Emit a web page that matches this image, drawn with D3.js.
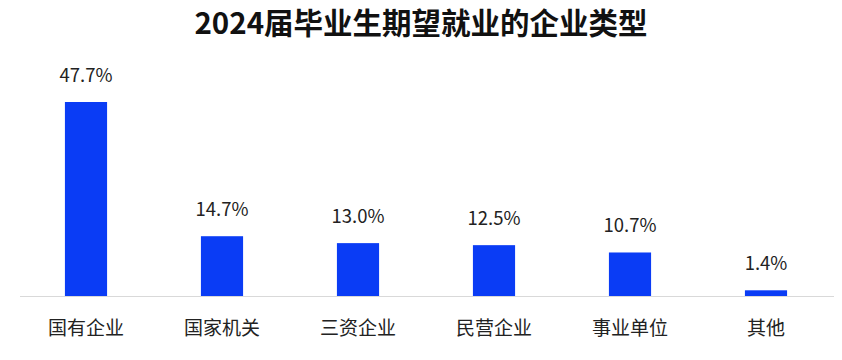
<!DOCTYPE html>
<html>
<head>
<meta charset="utf-8">
<script src="https://cdn.jsdelivr.net/npm/d3@7"></script>
<style>
  body { margin: 0; background: #fff; }
  text { font-family: "Noto Sans CJK SC", "Noto Sans", sans-serif; }
</style>
</head>
<body>
<div id="vis"></div>
<script>
// data
const categories = ['国有企业', '国家机关', '三资企业', '民营企业', '事业单位', '其他']
const values = [47.7, 14.7, 13.0, 12.5, 10.7, 1.4]
const title = '2024届毕业生期望就业的企业类型'

const width = 842
const height = 360
const margin = { left: 18, right: 8, top: 60, bottom: 64 }

const svg = d3.select('#vis')
  .append('svg')
  .attr('width', width)
  .attr('height', height)

// x scale (category bands)
const xScale = d3.scaleBand()
  .domain(categories)
  .range([margin.left, width - margin.right])
  .paddingInner(0.69)
  .paddingOuter(0.345)

// y scale (percent)
const baseY = height - margin.bottom
const yScale = d3.scaleLinear()
  .domain([0, 47.7])
  .range([baseY, 102])

// title
svg.append('text')
  .attr('x', width / 2)
  .attr('y', 34)
  .attr('text-anchor', 'middle')
  .attr('font-size', 29.5)
  .attr('font-weight', 'bold')
  .attr('fill', '#111')
  .text(title)

// baseline
svg.append('line')
  .attr('x1', 20)
  .attr('x2', 834)
  .attr('y1', baseY + 0.5)
  .attr('y2', baseY + 0.5)
  .attr('stroke', '#d9d9d9')
  .attr('stroke-width', 1)

const data = categories.map((c, i) => ({ cat: c, value: values[i] }))

// bars
svg.append('g')
  .selectAll('rect')
  .data(data)
  .enter()
  .append('rect')
  .attr('x', d => xScale(d.cat))
  .attr('y', d => yScale(d.value))
  .attr('width', xScale.bandwidth())
  .attr('height', d => baseY - yScale(d.value))
  .attr('fill', '#0a3cf5')

// value labels
svg.append('g')
  .selectAll('text')
  .data(data)
  .enter()
  .append('text')
  .attr('x', d => xScale(d.cat) + xScale.bandwidth() / 2)
  .attr('y', d => yScale(d.value) - 20)
  .attr('text-anchor', 'middle')
  .attr('font-size', 18.5)
  .attr('fill', '#222')
  .text(d => d3.format('.1f')(d.value) + '%')

// category labels
svg.append('g')
  .selectAll('text')
  .data(data)
  .enter()
  .append('text')
  .attr('x', d => xScale(d.cat) + xScale.bandwidth() / 2)
  .attr('y', baseY + 39)
  .attr('text-anchor', 'middle')
  .attr('font-size', 19)
  .attr('fill', '#222')
  .text(d => d.cat)
</script>
</body>
</html>
